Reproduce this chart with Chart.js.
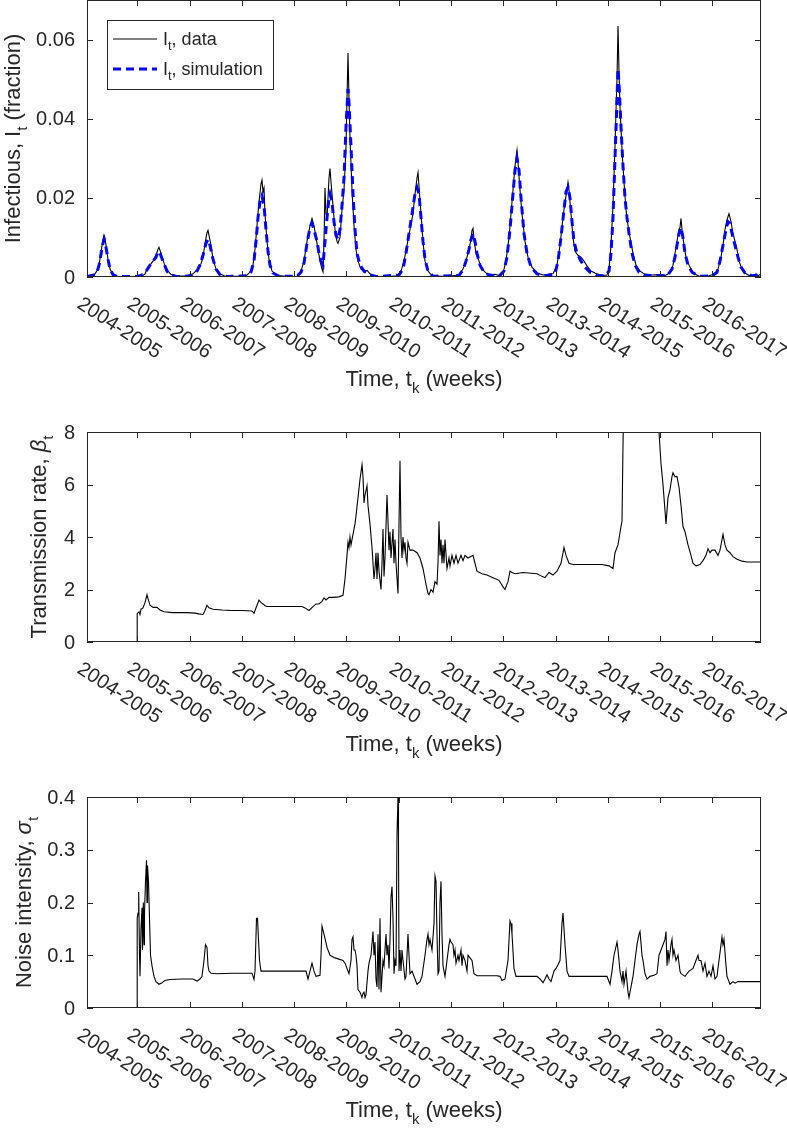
<!DOCTYPE html>
<html>
<head>
<meta charset="utf-8">
<script src="https://cdn.jsdelivr.net/npm/chart.js@4.4.1/dist/chart.umd.min.js"></script>
<style>
  body { margin: 0; background: #fff; width: 787px; height: 1130px; position: relative; overflow: hidden; }
  canvas { position: absolute; left: 0; }
</style>
</head>
<body>
<canvas id="infChart" width="787" height="410" style="top:0"></canvas>
<canvas id="betaChart" width="787" height="370" style="top:410px"></canvas>
<canvas id="sigmaChart" width="787" height="350" style="top:780px"></canvas>
<script>
// ----------------- Data (x in weeks) -----------------
const seasonLabels = ['2004-2005','2005-2006','2006-2007','2007-2008','2008-2009','2009-2010','2010-2011',
  '2011-2012','2012-2013','2013-2014','2014-2015','2015-2016','2016-2017'];
const seasonTickWeeks = [0, 50, 103, 155, 207, 259, 312, 364, 416, 469, 521, 573, 625];
const lastWeek = 674;

const infYTicks = [0, 0.02, 0.04, 0.06];
const betaYTicks = [0, 2, 4, 6, 8];
const sigmaYTicks = [0, 0.1, 0.2, 0.3, 0.4];

// infectious fraction, data  [week, value]
const infData = [[0,0.0002],[5,0.0003],[8,0.0008],[11,0.002],[13,0.0045],[15,0.008],[17,0.0105],[18,0.0098],[19,0.008],[21,0.0045],[23,0.002],[26,0.0006],[30,0.0001],
  [40,0.0001],[55,0.0002],[58,0.0008],[60,0.002],[63,0.003],[66,0.004],[69,0.0055],[71,0.007],[72,0.0075],[74,0.006],[77,0.0035],[80,0.0018],[84,0.0006],[90,0.0002],
  [100,0.0003],[106,0.0008],[110,0.0018],[112,0.003],[114,0.0033],[116,0.005],[118,0.0085],[120,0.0112],[121,0.0118],[122,0.0105],[124,0.008],[126,0.0045],[129,0.002],[133,0.0008],[138,0.0002],
  [155,0.0002],[160,0.0005],[164,0.0015],[166,0.003],[168,0.007],[170,0.013],[172,0.019],[174,0.0235],[175,0.0245],[176,0.0215],[177,0.0225],[178,0.016],[180,0.009],[182,0.0045],[185,0.0015],[190,0.0004],[200,0.0001],
  [210,0.0002],[214,0.0015],[217,0.004],[220,0.009],[223,0.013],[225,0.0148],[227,0.013],[229,0.01],[231,0.007],[233,0.004],[235,0.002],[236,0.0013],[237,0.009],[238,0.0225],[239,0.016],[240,0.015],[241,0.02],[242,0.025],[243,0.0274],[244,0.024],[246,0.018],[248,0.012],[250,0.009],[251,0.0085],[253,0.01],[255,0.017],[257,0.022],[259,0.033],[260,0.045],[261,0.0566],[262,0.045],[263,0.035],[265,0.022],[267,0.013],[269,0.007],[271,0.004],[274,0.002],[277,0.0015],[280,0.0017],[283,0.0008],[288,0.0002],
  [300,0.0001],[310,0.0003],[314,0.0015],[317,0.004],[320,0.008],[323,0.012],[326,0.016],[328,0.021],[330,0.025],[331,0.0264],[332,0.023],[334,0.016],[336,0.009],[338,0.004],[341,0.0015],[345,0.0003],
  [360,0.0001],[372,0.0005],[376,0.002],[379,0.004],[382,0.007],[384,0.0095],[385,0.0118],[386,0.0123],[387,0.0095],[389,0.006],[392,0.004],[395,0.002],[400,0.0008],[405,0.0006],[408,0.0007],[413,0.0003],
  [416,0.001],[419,0.004],[422,0.01],[424,0.016],[426,0.022],[428,0.028],[430,0.032],[431,0.029],[433,0.022],[435,0.016],[438,0.009],[441,0.005],[445,0.0025],[450,0.001],[456,0.0005],
  [466,0.0008],[470,0.003],[473,0.008],[476,0.015],[478,0.019],[480,0.022],[481,0.0239],[482,0.022],[484,0.016],[486,0.01],[488,0.0065],[491,0.0055],[494,0.005],[497,0.004],[500,0.0028],[504,0.0015],[508,0.001],[512,0.0006],[516,0.0004],
  [520,0.0005],[522,0.002],[524,0.008],[526,0.018],[528,0.033],[529,0.042],[530,0.05],[531,0.0634],[532,0.052],[533,0.043],[535,0.032],[537,0.024],[539,0.017],[541,0.013],[543,0.01],[546,0.006],[549,0.003],[553,0.0015],[557,0.0008],[565,0.0005],[572,0.0006],
  [578,0.0004],[583,0.001],[586,0.003],[588,0.006],[590,0.009],[592,0.012],[593,0.0125],[594,0.0148],[595,0.012],[597,0.008],[599,0.005],[602,0.003],[606,0.001],[612,0.0002],
  [622,0.0003],[628,0.0008],[631,0.002],[634,0.005],[636,0.008],[638,0.012],[640,0.0145],[642,0.016],[644,0.014],[646,0.011],[648,0.009],[650,0.007],[652,0.004],[655,0.002],[658,0.001],[662,0.0004],[667,0.0003],[669,0.0008],[671,0.0003],[674,0.0008]];

// infectious fraction, simulation
const infSim = [[0,0.0001],[8,0.0006],[11,0.002],[13,0.004],[15,0.0075],[17,0.0095],[19,0.0075],[21,0.0045],[23,0.002],[26,0.0006],[30,0.0001],
  [50,0.0001],[56,0.0006],[60,0.0018],[63,0.003],[66,0.004],[69,0.005],[71,0.0065],[73,0.006],[76,0.004],[80,0.0015],[84,0.0005],[90,0.0001],
  [105,0.0003],[110,0.0015],[113,0.003],[116,0.0055],[119,0.0085],[121,0.0095],[123,0.008],[126,0.0045],[129,0.002],[133,0.0006],[140,0.0001],
  [160,0.0003],[164,0.0013],[167,0.004],[169,0.009],[171,0.015],[173,0.019],[175,0.0205],[177,0.018],[179,0.012],[181,0.0065],[183,0.003],[186,0.001],[192,0.0002],
  [210,0.0002],[214,0.0012],[217,0.0035],[220,0.0085],[223,0.0125],[225,0.0136],[227,0.012],[230,0.009],[232,0.006],[234,0.004],[236,0.003],[238,0.009],[240,0.015],[242,0.02],[243,0.021],[245,0.019],[247,0.014],[249,0.0105],[251,0.0095],[253,0.012],[255,0.018],[257,0.025],[259,0.038],[261,0.0475],[262,0.044],[264,0.033],[266,0.021],[268,0.012],[270,0.006],[273,0.003],[277,0.0015],[282,0.0006],[290,0.0001],
  [312,0.0005],[316,0.002],[319,0.006],[322,0.011],[325,0.016],[328,0.021],[330,0.0226],[332,0.021],[334,0.015],[336,0.009],[338,0.0045],[341,0.0015],[346,0.0002],
  [372,0.0004],[376,0.0018],[379,0.004],[382,0.007],[384,0.0095],[386,0.011],[388,0.009],[390,0.006],[393,0.003],[397,0.0012],[402,0.0005],[412,0.0002],
  [417,0.0015],[420,0.005],[423,0.012],[426,0.021],[428,0.027],[430,0.03],[432,0.027],[434,0.02],[437,0.011],[440,0.006],[444,0.0025],[450,0.0008],[458,0.0003],
  [468,0.0008],[471,0.004],[474,0.01],[477,0.017],[479,0.0215],[481,0.0227],[483,0.02],[485,0.014],[487,0.009],[490,0.006],[494,0.004],[498,0.0025],[503,0.0012],[510,0.0004],
  [518,0.0003],[522,0.0015],[524,0.006],[526,0.015],[528,0.03],[530,0.045],[531,0.0526],[532,0.049],[534,0.038],[536,0.028],[538,0.02],[540,0.015],[542,0.011],[545,0.006],[548,0.003],[552,0.0012],[558,0.0004],
  [580,0.0003],[585,0.002],[588,0.005],[590,0.008],[592,0.011],[594,0.0125],[596,0.01],[598,0.006],[601,0.003],[605,0.0012],[612,0.0002],
  [625,0.0003],[630,0.0012],[633,0.004],[636,0.008],[639,0.012],[641,0.014],[643,0.0135],[645,0.011],[648,0.008],[651,0.005],[654,0.0025],[658,0.001],[665,0.0003],[674,0.0005]];

// transmission rate beta_t
const betaData = [[50,0],[50.2,1.08],[52,1.15],[53,1.05],[54,1.25],[56,1.3],[58,1.5],[60,1.8],[61,1.65],[63,1.4],[66,1.32],[70,1.32],[73,1.22],[77,1.15],[85,1.12],[100,1.12],[108,1.1],[112,1.07],[116,1.05],[118,1.2],[120,1.4],[122,1.3],[126,1.25],[135,1.22],[145,1.2],[155,1.2],[165,1.18],[167,1.1],[170,1.4],[172,1.6],[174,1.5],[176,1.45],[178,1.38],[180,1.35],[200,1.35],[215,1.35],[218,1.3],[222,1.2],[226,1.35],[229,1.45],[232,1.45],[235,1.55],[237,1.68],[239,1.6],[242,1.7],[246,1.7],[252,1.72],[256,1.78],
  [258,2.4],[260,3.3],[261,3.8],[262,3.6],[263,4.0],[264,3.7],[266,4.1],[268,4.5],[269,4.8],[271,5.5],[273,6.2],[275,6.75],[276,6.3],[277,5.3],[278,5.6],[280,5.95],[281,5.2],[283,4.5],[285,3.6],[286,3.0],[287,2.4],[288,2.8],[289,3.4],[290,2.4],[291,3.4],[292,2.7],[294,2.0],[295,3.0],[296,4.3],[297,2.5],[298,3.2],[300,5.6],[301,4.6],[302,3.5],[303,4.2],[304,3.2],[306,4.3],[307,3.0],[308,3.9],[309,3.0],[311,1.85],[312,4.5],[313,6.9],[314,4.0],[315,3.2],[316,4.0],[317,3.5],[318,3.8],[319,3.2],[320,3.0],[321,3.8],[323,3.5],[326,3.5],[330,3.4],[333,3.2],[336,2.8],[339,2.2],[341,1.85],[342,1.8],[344,2.0],[346,1.9],[348,2.3],[350,2.2],[351,3.0],[352,4.6],[353,3.3],[354,3.9],[355,3.0],[356,3.7],[357,3.0],[358,3.9],[360,2.8],[362,3.2],[363,2.9],[365,3.3],[367,3.0],[369,3.3],[371,3.0],[374,3.3],[376,3.1],[378,3.3],[381,3.2],[386,3.3],[388,3.0],[390,2.7],[395,2.6],[400,2.55],[406,2.45],[412,2.35],[416,2.1],[418,2.0],[421,2.3],[423,2.7],[425,2.65],[428,2.6],[436,2.65],[450,2.6],[455,2.5],[458,2.45],[462,2.65],[466,2.55],[470,2.7],[474,3.0],[477,3.6],[479,3.3],[482,3.0],[486,2.95],[500,2.95],[515,2.95],[522,2.9],[526,2.8],[528,3.4],[531,3.7],[534,4.4],[535,4.6],[536,7.5],[537,10],[555,14],[571,10],[572,8],[574,6.8],[576,6.0],[578,5.0],[579,4.5],[581,5.5],[583,5.8],[585,6.3],[586,6.45],[588,6.3],[590,6.3],[592,5.9],[594,5.2],[596,4.4],[598,4.2],[601,3.7],[604,3.3],[606,3.0],[609,2.9],[613,2.95],[616,3.1],[619,3.3],[621,3.55],[623,3.4],[625,3.5],[628,3.5],[631,3.3],[633,3.5],[636,4.1],[638,3.7],[640,3.5],[643,3.4],[646,3.25],[650,3.15],[655,3.08],[660,3.05],[674,3.05]];

// noise intensity sigma_t
const sigmaData = [[50,0],[50.2,0.17],[51,0.18],[51.7,0.22],[52.5,0.1],[53,0.06],[54,0.15],[55,0.19],[55.5,0.11],[56.3,0.2],[57,0.12],[57.5,0.18],[58.5,0.24],[59.5,0.28],[60,0.2],[60.5,0.27],[61.5,0.24],[62.5,0.17],[63.5,0.1],[65,0.08],[67,0.06],[69,0.05],[72,0.045],[75,0.048],[78,0.052],[83,0.054],[95,0.055],[106,0.055],[110,0.051],[113,0.055],[115,0.06],[117,0.09],[118.5,0.12],[120,0.115],[121,0.08],[122,0.07],[124,0.066],[130,0.065],[145,0.066],[165,0.066],[167,0.054],[168,0.07],[169.5,0.17],[170.5,0.17],[171.5,0.13],[172.5,0.09],[174,0.07],[180,0.07],[200,0.07],[219,0.07],[221,0.055],[223,0.07],[225,0.085],[227,0.07],[229,0.06],[233,0.062],[234,0.1],[235,0.155],[237,0.14],[240,0.115],[243,0.1],[248,0.095],[256,0.09],[258,0.085],[260,0.075],[262,0.065],[264,0.09],[265,0.13],[266,0.135],[267,0.11],[268,0.11],[269,0.1],[270,0.08],[271,0.035],[273,0.03],[275,0.02],[276,0.028],[277,0.03],[278,0.02],[279,0.025],[281,0.07],[282,0.085],[284,0.1],[286,0.145],[287,0.1],[288,0.125],[289,0.055],[290,0.04],[291,0.14],[292,0.035],[293,0.17],[294,0.03],[295,0.06],[296,0.09],[297,0.08],[299,0.14],[300,0.1],[301,0.12],[302,0.075],[303,0.13],[304,0.21],[305,0.23],[306,0.17],[307,0.065],[308,0.09],[309,0.08],[310,0.33],[311,0.4],[311.5,0.32],[312,0.07],[313,0.11],[314,0.07],[315,0.11],[316,0.09],[318,0.055],[319,0.06],[320,0.1],[321,0.14],[322,0.1],[323,0.065],[325,0.07],[328,0.055],[330,0.045],[333,0.05],[335,0.06],[338,0.1],[340,0.13],[341,0.14],[342,0.12],[343,0.13],[345,0.11],[347,0.16],[348,0.25],[349,0.24],[350,0.14],[351,0.065],[352,0.07],[353,0.2],[354,0.24],[355,0.14],[356,0.08],[357,0.07],[358,0.06],[360,0.09],[362,0.12],[363,0.13],[364,0.125],[366,0.12],[367,0.1],[368,0.11],[369,0.085],[371,0.1],[372,0.09],[374,0.11],[375,0.08],[376,0.1],[378,0.09],[380,0.07],[381,0.1],[383,0.095],[385,0.09],[387,0.065],[390,0.061],[410,0.061],[413,0.06],[415,0.052],[418,0.055],[421,0.09],[423,0.165],[424,0.16],[425,0.14],[427,0.075],[429,0.06],[432,0.06],[450,0.06],[453,0.055],[456,0.048],[458,0.055],[460,0.063],[462,0.055],[464,0.05],[467,0.07],[469,0.075],[471,0.082],[473,0.09],[475,0.16],[476,0.18],[477,0.15],[478,0.12],[480,0.07],[482,0.06],[490,0.06],[500,0.06],[520,0.06],[523,0.045],[525,0.07],[527,0.1],[530,0.125],[531,0.11],[533,0.07],[535,0.05],[536,0.07],[537,0.045],[539,0.07],[541,0.03],[542,0.02],[544,0.04],[546,0.06],[548,0.09],[550,0.12],[552,0.14],[553,0.145],[555,0.1],[556,0.09],[558,0.065],[560,0.055],[563,0.06],[567,0.062],[570,0.065],[572,0.1],[574,0.11],[576,0.12],[578,0.13],[579,0.145],[580,0.08],[581,0.11],[582,0.09],[584,0.12],[585,0.13],[586,0.1],[587,0.11],[589,0.09],[591,0.1],[593,0.07],[594,0.065],[598,0.06],[602,0.07],[606,0.075],[609,0.09],[611,0.1],[612,0.09],[614,0.09],[616,0.07],[618,0.085],[620,0.06],[622,0.07],[624,0.06],[626,0.08],[628,0.055],[630,0.06],[632,0.09],[634,0.12],[635,0.135],[636,0.12],[637,0.13],[639,0.08],[640,0.06],[643,0.045],[646,0.05],[648,0.047],[651,0.05],[674,0.05]];

// ----------------- Drawing helpers -----------------
const FONT = '"Liberation Sans", Arial, Helvetica, sans-serif';
const AXIS_COLOR = '#262626';

// parts: [text, kind]  kind: '' normal, 'sub' subscript, 'it' italic
function richWidth(ctx, parts, size) {
  let w = 0;
  parts.forEach(([t, k]) => {
    ctx.font = (k === 'sub' ? Math.round(size * 0.7) + 'px ' : (k === 'it' ? 'italic ' : '') + size + 'px ') + FONT;
    w += ctx.measureText(t).width;
  });
  return w;
}
function drawRich(ctx, parts, x, y, size) {
  ctx.textAlign = 'left';
  ctx.textBaseline = 'alphabetic';
  parts.forEach(([t, k]) => {
    const sub = k === 'sub';
    ctx.font = (sub ? Math.round(size * 0.7) + 'px ' : (k === 'it' ? 'italic ' : '') + size + 'px ') + FONT;
    ctx.fillText(t, x, sub ? y + size * 0.3 : y);
    x += ctx.measureText(t).width;
  });
}

const matlabAxes = {
  id: 'matlabAxes',
  afterDraw(chart, args, opts) {
    const ctx = chart.ctx;
    const { left, right, top, bottom } = chart.chartArea;
    const xs = chart.scales.x, ys = chart.scales.y;
    ctx.save();
    ctx.strokeStyle = AXIS_COLOR;
    ctx.fillStyle = AXIS_COLOR;
    ctx.lineWidth = 1;
    // frame
    ctx.strokeRect(Math.round(left) + 0.5, Math.round(top) + 0.5, Math.round(right - left) - 1, Math.round(bottom - top) - 1);
    // inward ticks
    const tl = 6;
    ctx.beginPath();
    seasonTickWeeks.forEach(w => {
      const px = Math.round(xs.getPixelForValue(w)) + 0.5;
      ctx.moveTo(px, bottom); ctx.lineTo(px, bottom - tl);
      ctx.moveTo(px, top); ctx.lineTo(px, top + tl);
    });
    opts.yTicks.forEach(v => {
      const py = Math.round(ys.getPixelForValue(v)) + 0.5;
      ctx.moveTo(left, py); ctx.lineTo(left + tl, py);
      ctx.moveTo(right, py); ctx.lineTo(right - tl, py);
    });
    ctx.stroke();
    // y tick labels
    ctx.font = '20px ' + FONT;
    ctx.textAlign = 'right';
    ctx.textBaseline = 'middle';
    opts.yTicks.forEach(v => {
      ctx.fillText(String(v), left - 12, ys.getPixelForValue(v) + 1);
    });
    // rotated x tick labels
    ctx.textAlign = 'left';
    ctx.textBaseline = 'alphabetic';
    seasonTickWeeks.forEach((w, i) => {
      ctx.save();
      ctx.translate(xs.getPixelForValue(w) - 11, bottom + 30);
      ctx.rotate(33 * Math.PI / 180);
      ctx.font = '20px ' + FONT;
      ctx.fillText(seasonLabels[i], 0, 0);
      ctx.restore();
    });
    // x title
    const xt = [['Time, t', ''], ['k', 'sub'], [' (weeks)', '']];
    drawRich(ctx, xt, (left + right) / 2 - richWidth(ctx, xt, 22) / 2, bottom + 109, 22);
    // y title
    ctx.save();
    ctx.translate(opts.yTitleX, (top + bottom) / 2);
    ctx.rotate(-Math.PI / 2);
    drawRich(ctx, opts.yTitle, -richWidth(ctx, opts.yTitle, 22) / 2, 0, 22);
    ctx.restore();
    // legend
    if (opts.legend) {
      const L = opts.legend;
      ctx.fillStyle = '#fff';
      ctx.fillRect(L.x, L.y, L.w, L.h);
      ctx.strokeStyle = AXIS_COLOR;
      ctx.lineWidth = 1;
      ctx.strokeRect(L.x + 0.5, L.y + 0.5, L.w, L.h);
      L.items.forEach((it, i) => {
        const yy = L.y + 19 + i * 30;
        ctx.save();
        ctx.strokeStyle = it.color;
        ctx.lineWidth = it.width;
        ctx.setLineDash(it.dash || []);
        ctx.beginPath();
        ctx.moveTo(L.x + 6, yy); ctx.lineTo(L.x + 50, yy);
        ctx.stroke();
        ctx.restore();
        ctx.fillStyle = AXIS_COLOR;
        drawRich(ctx, it.text, L.x + 56, yy + 6, 18);
      });
    }
    ctx.restore();
  }
};

function toPoints(pairs) { return pairs.map(([x, y]) => ({ x, y })); }

function makePanel(id, datasets, yMax, padding, axesOpts) {
  return new Chart(document.getElementById(id), {
    type: 'line',
    data: { datasets },
    options: {
      responsive: false,
      animation: false,
      devicePixelRatio: 1,
      layout: { padding },
      parsing: false,
      elements: { point: { radius: 0 }, line: { tension: 0 } },
      scales: {
        x: { type: 'linear', min: 0, max: lastWeek, display: false },
        y: { type: 'linear', min: 0, max: yMax, display: false }
      },
      plugins: { legend: { display: false }, tooltip: { enabled: false }, matlabAxes: axesOpts }
    },
    plugins: [matlabAxes]
  });
}

// ----------------- Panels -----------------
makePanel('infChart', [
  { label: 'I_t, simulation', data: toPoints(infSim), borderColor: '#0000ff', borderWidth: 3, borderDash: [8, 5], order: 0 },
  { label: 'I_t, data', data: toPoints(infData), borderColor: '#000000', borderWidth: 1.1, order: 1 }
], 0.07, { left: 87, right: 26, top: 0, bottom: 133 }, {
  yTicks: infYTicks,
  yTitleX: 20,
  yTitle: [['Infectious, I', ''], ['t', 'sub'], [' (fraction)', '']],
  legend: { x: 107, y: 20, w: 166, h: 69, items: [
    { text: [['I', ''], ['t', 'sub'], [', data', '']], color: '#000', width: 1.1 },
    { text: [['I', ''], ['t', 'sub'], [', simulation', '']], color: '#0000ff', width: 3, dash: [8, 5] }
  ] }
});

makePanel('betaChart', [
  { label: 'beta_t', data: toPoints(betaData), borderColor: '#000000', borderWidth: 1.1 }
], 8, { left: 87, right: 26, top: 22, bottom: 138 }, {
  yTicks: betaYTicks,
  yTitleX: 46,
  yTitle: [['Transmission rate, ', ''], ['β', 'it'], ['t', 'sub']]
});

makePanel('sigmaChart', [
  { label: 'sigma_t', data: toPoints(sigmaData), borderColor: '#000000', borderWidth: 1.1 }
], 0.4, { left: 87, right: 26, top: 17, bottom: 122 }, {
  yTicks: sigmaYTicks,
  yTitleX: 31,
  yTitle: [['Noise intensity, ', ''], ['σ', 'it'], ['t', 'sub']]
});
</script>
</body>
</html>
